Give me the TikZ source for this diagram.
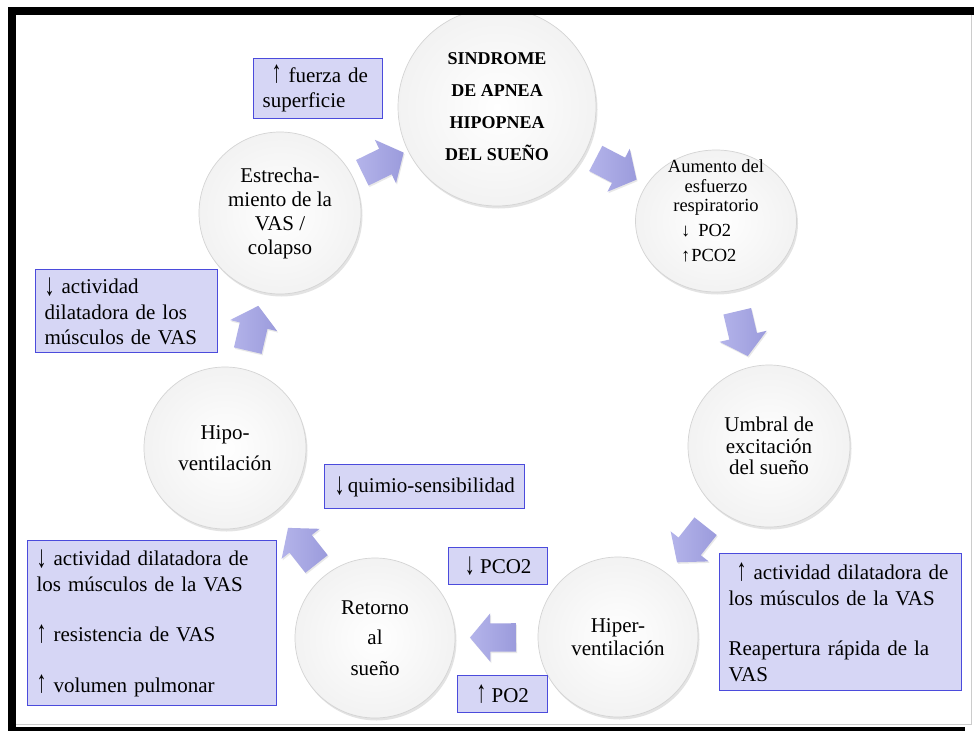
\documentclass[tikz,border=0pt]{standalone}
\usepackage{fontspec}
\setmainfont{Liberation Serif}
\usetikzlibrary{shapes.arrows,shapes.geometric,shadows,calc}
\definecolor{boxfill}{RGB}{214,214,245}
\definecolor{boxline}{RGB}{75,75,220}
\definecolor{arrowA}{RGB}{155,155,220}
\definecolor{arrowB}{RGB}{180,180,234}
\definecolor{ringline}{RGB}{212,212,212}
\newcommand\cyclearrow[4]{%
  \path let \p1=(#1), \p2=(#2), \n1={atan2(\y2-\y1,\x2-\x1)} in
    node[blockarrow, rotate=\n1] (#4) at ($(#1)!#3!(#2)$) {};}
\newcommand\uarr{\raisebox{-0.5pt}{\scalebox{0.95}[1.5]{↑}}}
\newcommand\darr{\raisebox{-1.5pt}{\scalebox{0.95}[1.5]{↓}}}
\begin{document}
\begin{tikzpicture}[x=1pt,y=-1pt,
  ring/.style={circle, inner sep=0pt, minimum size=#1, draw=ringline, line width=0.7pt,
    inner color=white, outer color=gray!10, align=center,
    drop shadow={opacity=0.22, shadow xshift=1.5pt, shadow yshift=-2.5pt}},
  oval/.style={ellipse, inner sep=0pt, draw=ringline, line width=0.7pt,
    inner color=white, outer color=gray!10, align=center,
    drop shadow={opacity=0.22, shadow xshift=1.5pt, shadow yshift=-2.5pt}},
  blockarrow/.style={single arrow, minimum height=46pt, minimum width=0pt,
    single arrow head extend=10pt, single arrow tip angle=100,
    inner xsep=0pt, inner ysep=14pt,
    draw=none, left color=arrowB, right color=arrowA,
    drop shadow={opacity=0.18, shadow xshift=1pt, shadow yshift=-1.5pt}},
  boxst/.style={draw=boxline, fill=boxfill, line width=1.3pt, inner xsep=9pt,
    inner ysep=0pt, align=left, anchor=north west,
    font=\fontsize{21}{25.5}\selectfont},
  cbox/.style={draw=boxline, fill=boxfill, line width=1.3pt, inner sep=0pt,
    align=center, anchor=north west, font=\fontsize{21}{25.5}\selectfont},
  ]
\fill[white] (0,0) rectangle (974,731);
\useasboundingbox (0,0) rectangle (974,731);

% circles
\node[ring=198pt, font=\bfseries\fontsize{18}{32}\selectfont] (sin) at (497,107)
  {SINDROME\\DE APNEA\\HIPOPNEA\\DEL SUEÑO};
\node[oval, minimum width=161pt, minimum height=142pt] (aum) at (716,221) {};
\node[font=\fontsize{18.5}{19.5}\selectfont, align=center] (aumtxt) at (716,211)
  {Aumento del\\esfuerzo\\respiratorio\\[5.5pt]
   \makebox[70pt][l]{↓\hspace{8pt}PO2}\\[5.5pt]\makebox[70pt][l]{↑\hspace{1pt}PCO2}};
\node[ring=162pt, font=\fontsize{21}{21.5}\selectfont] (umb) at (769,446)
  {Umbral de\\excitación\\del sueño};
\node[ring=160pt, font=\fontsize{21}{23}\selectfont] (hiper) at (618,637)
  {Hiper-\\ventilación};
\node[ring=160pt, font=\fontsize{21}{30.5}\selectfont] (ret) at (375,638)
  {Retorno\\al\\sueño};
\node[ring=162pt, font=\fontsize{21}{31}\selectfont] (hipo) at (225,448)
  {Hipo-\\ventilación};
\node[ring=162pt, font=\fontsize{21}{24}\selectfont] (est) at (280,213)
  {Estrecha-\\miento de la\\VAS /\\colapso};

% block arrows between the circles
\cyclearrow{est}{sin}{0.45}{a1}
\cyclearrow{sin}{aum}{0.52}{a2}
\cyclearrow{aum}{umb}{0.475}{a3}
\cyclearrow{umb}{hiper}{0.49}{a4}
\cyclearrow{hiper}{ret}{0.49}{a5}
\cyclearrow{ret}{hipo}{0.46}{a6}
\cyclearrow{hipo}{est}{0.485}{a7}

% boxes
\node[boxst, text width=111pt, minimum height=60pt] (bA) at (253,58)
  {\hspace*{9pt}\uarr\ fuerza de\\superficie};
\node[boxst, text width=164pt, minimum height=83pt] (bB) at (35,269)
  {\darr\ actividad\\dilatadora de los\\músculos de VAS};
\node[cbox, minimum width=200pt, minimum height=44pt] (bC) at (324,464)
  {\darr\,quimio-sensibilidad};
\node[boxst, text width=231pt, minimum height=165pt] (bD) at (27,540)
  {\darr\ actividad dilatadora de\\los músculos de la VAS\\[25pt]\uarr\ resistencia de VAS\\[25pt]\uarr\ volumen pulmonar};
\node[cbox, minimum width=99pt, minimum height=37pt] (bE) at (448,547)
  {\darr\ PCO2};
\node[cbox, minimum width=90pt, minimum height=37pt] (bF) at (457,675)
  {\uarr\ PO2};
\node[boxst, text width=224pt, minimum height=137pt] (bG) at (719,553)
  {\hspace*{8pt}\uarr\ actividad dilatadora de\\los músculos de la VAS\\[25pt]Reapertura rápida de la\\VAS};

% frame
\draw[gray!40, line width=1pt] (16,724) -- (971,724) -- (971,15);
\fill[black] (8,7) rectangle (974,15);
\fill[black] (8,7) rectangle (16,731);
\fill[black] (8,727) rectangle (965,731);
\end{tikzpicture}
\end{document}
